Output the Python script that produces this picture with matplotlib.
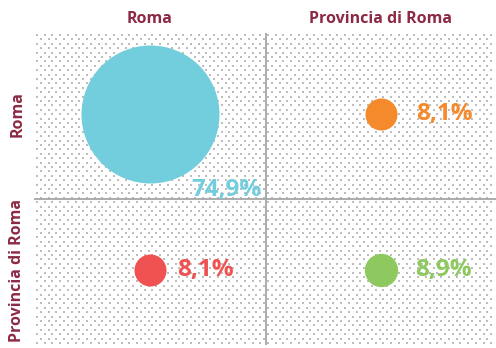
import numpy as np
import matplotlib
matplotlib.use("Agg")
import matplotlib.pyplot as plt

# Flows between Roma and Provincia di Roma (share of total, %)
origins = ["Roma", "Roma", "Provincia di Roma", "Provincia di Roma"]
destinations = ["Roma", "Provincia di Roma", "Roma", "Provincia di Roma"]
shares = [74.9, 8.1, 8.1, 8.9]
share_labels = ["74,9%", "8,1%", "8,1%", "8,9%"]
colors = ["#72CEDD", "#F58A2C", "#F05252", "#8DC95E"]

col_labels = ["Roma", "Provincia di Roma"]
row_labels = ["Roma", "Provincia di Roma"]

# label offsets in points relative to each bubble centre
label_offsets = [(30, -54.5), (26, 0), (20, 0), (25, 0)]

W, H, DPI = 496, 348, 100
fig = plt.figure(figsize=(W / DPI, H / DPI), dpi=DPI)
left, right, top, bottom = 34, 496, 33, 345
ax = fig.add_axes([left / W, 1 - bottom / H, (right - left) / W, (bottom - top) / H])
x0, x1 = 0.0, 2.0
y0, y1 = -0.02, 1.98
ax.set_xlim(x0, x1)
ax.set_ylim(y1, y0)
ax.axis("off")

# dotted background texture
px_w = right - left
px_h = bottom - top
dx, dy = 7.7, 4.4
rows = np.arange(2, px_h, dy)
xs, ys = [], []
for i, yy in enumerate(rows):
    start = 3 + (dx / 2 if i % 2 else 0)
    for xx in np.arange(start, px_w - 4, dx):
        xs.append(x0 + xx / px_w * (x1 - x0))
        ys.append(y0 + yy / px_h * (y1 - y0))
ax.scatter(xs, ys, s=2.2, marker="s", color="#bdbdbd", linewidths=0, zorder=1)

# quadrant dividers
ax.axvline(1.004, color="#a6a6a6", lw=1.3, zorder=2)
ax.axhline(1.044, color="#a6a6a6", lw=1.3, zorder=2)

xpos = {c: i + 0.5 for i, c in enumerate(col_labels)}
ypos = {r: i + 0.5 for i, r in enumerate(row_labels)}

label_font = dict(family="Open Sans", weight="bold", fontsize=17.5)
for o, d, v, lab, c, off in zip(origins, destinations, shares, share_labels,
                                colors, label_offsets):
    x, y = xpos[d], ypos[o]
    radius_px = 9.6 + 0.793 * v
    size = (2 * radius_px * 72 / DPI) ** 2
    ax.scatter([x], [y], s=size, color=c, linewidths=0, zorder=3)
    ax.annotate(lab, (x, y), xytext=off, textcoords="offset points",
                color=c, ha="left", va="center", zorder=4, **label_font)

head_color = "#8C2A44"
head_font = dict(family="Open Sans", weight="bold", fontsize=11.5, color=head_color)
for c in col_labels:
    fx = ax.transData.transform((xpos[c], 0))[0] / W
    fig.text(fx, 1 - 19 / H, c, ha="center", va="center", **head_font)
fig.canvas.draw()
for r in row_labels:
    fy = ax.transData.transform((0, ypos[r]))[1] / H
    fig.text(17.5 / W, fy, r, ha="center", va="center", rotation=90, **head_font)

fig.savefig("out.png", dpi=DPI)
